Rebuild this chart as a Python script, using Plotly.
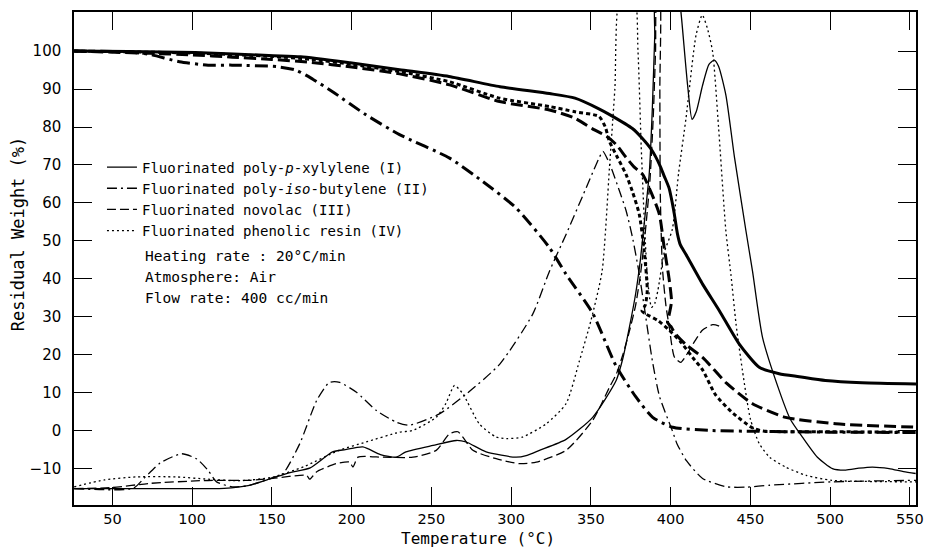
import plotly.graph_objects as go

# ---------------- data ----------------
# Thick curves: residual weight (TG)
tg_I_x = [26, 60, 102, 151, 168, 199, 230, 261, 293, 324, 340, 355, 362, 376, 382, 388, 393, 396, 399, 401, 402.3, 404.3, 406, 409.6, 420, 430.5, 443, 455.5, 468, 480.6, 497, 520, 554]
tg_I_y = [100, 99.9, 99.6, 98.8, 98.5, 96.9, 95.1, 93.3, 90.6, 88.8, 87.6, 84.8, 83.2, 79.6, 77.1, 74, 70.1, 67, 63.9, 60, 57, 51.7, 49, 46.4, 38.6, 31.6, 22.8, 16.7, 15, 14.2, 13.2, 12.6, 12.3]

tg_II_x = [26, 60, 73.5, 92, 110, 125, 153, 165, 175.6, 188, 209, 230, 261.4, 282, 303, 324, 334.4, 351, 365.8, 378.3, 388.7, 401.2, 424, 455, 500, 554]
tg_II_y = [100, 99.8, 99.1, 97.2, 96.3, 96.3, 95.9, 95, 92.6, 89.3, 83.2, 78, 71.8, 65.7, 58.7, 48.2, 41.2, 31, 17, 8.8, 3.5, 0.9, 0.05, -0.2, -0.4, -0.5]

tg_III_x = [26, 73.5, 100, 125, 150, 175, 200, 230, 261.4, 292.7, 324, 340, 351, 360, 366, 372, 377, 382.4, 388, 392.9, 396, 399, 400.5, 399, 398, 400, 403, 410, 420, 435, 451.3, 472, 503.5, 554]
tg_III_y = [100, 99.4, 99, 98.4, 97.8, 97, 95.8, 94, 91.1, 86.7, 84.5, 82.3, 79.5, 77.5, 75.3, 72, 69.5, 67.5, 62.5, 57, 48, 40, 34, 30.5, 28.5, 27.5, 25.5, 22.5, 19.3, 12.5, 7.1, 3.5, 1.8, 0.9]

tg_IV_x = [26, 73.5, 100, 150, 175, 200, 230, 261.4, 292.7, 324, 340, 355, 359, 361.6, 366, 372, 376, 380.3, 383.4, 385.3, 384, 382, 384.5, 392, 399, 406, 413.7, 420, 428, 438, 451.3, 458, 500, 554]
tg_IV_y = [100, 99.7, 99.5, 98.6, 97.8, 96.5, 94.6, 91.9, 87.6, 85.4, 84, 82.8, 80, 76.2, 72.5, 67.5, 63, 57, 47.3, 36.8, 33, 31.5, 30.7, 29, 26.5, 23.5, 19.3, 16, 9.5, 5, 0.7, -0.1, -0.3, -0.4]

# Thin curves: differential traces
dta_I_x = [26, 80, 120, 135, 151, 162, 174, 188, 196, 207, 218, 228, 234, 251, 265.6, 271.8, 284.3, 303, 310, 317.7, 334.4, 351.1, 365.8, 370, 374, 378, 381, 384, 386.6, 388.5, 390, 391, 405, 406.5, 410.6, 413.4, 416, 420, 424, 427.3, 430, 434.6, 440, 447.2, 451.3, 457.6, 468, 475, 482.6, 492, 501.4, 509.8, 518, 526.5, 536.9, 546, 553.6]
dta_I_y = [-15.3, -15.3, -15.2, -14.5, -12.4, -11, -9.8, -5.6, -5, -4.3, -6.3, -7, -5.6, -3.9, -2.6, -3, -5.6, -7, -6.5, -5.2, -2.3, 3.5, 13.2, 19, 27, 36, 45, 57, 68, 85, 104, 115, 115, 110, 91, 82, 84, 91, 96.5, 97.6, 96, 88.4, 72, 52.6, 42, 24.5, 10.6, 3, -1.7, -7, -10, -10.4, -9.9, -9.6, -10, -10.8, -11.3]

dta_II_x = [26, 63, 70, 80, 93.5, 103, 110, 115.3, 125, 135, 150, 157, 167.5, 178, 186, 192.5, 203, 215.5, 228, 236, 255, 272, 293, 313.5, 324, 334.4, 345, 355.3, 357.5, 362, 368, 372, 376, 380, 384, 388.5, 393, 401, 404, 410, 420, 435, 447, 462, 501, 554]
dta_II_y = [-15.3, -15.2, -12.5, -8.5, -6.1, -7.5, -10.5, -13.5, -14.8, -14.5, -12.5, -11.3, -3.4, 7.9, 12.7, 12.7, 10.1, 5.3, 2.2, 1.4, 4.4, 9.7, 17.6, 30.7, 42, 51.7, 62, 72, 73.6, 70, 63, 58, 51, 42, 31, 18.4, 9, 0, -3.5, -8, -12.6, -14.8, -14.9, -14.4, -13.5, -13.1]

dta_III_x = [26, 50, 73.6, 104.9, 115.3, 136.2, 150.5, 171.7, 173.7, 177.9, 190.4, 198.7, 200.8, 204, 219.6, 238.4, 253, 261.4, 266.6, 269.7, 276, 290.6, 305.2, 315.7, 334.4, 351.1, 361.6, 366, 370, 374, 378, 381, 384, 387, 389, 390.5, 391.5, 393, 393.2, 393.5, 394.8, 397, 399.1, 402.3, 406.3, 410, 415, 420, 426.3, 430, 432.5]
dta_III_y = [-15.3, -15, -13.9, -13.2, -13.1, -13.1, -12.6, -11.8, -12.8, -10.9, -8.7, -8.3, -9.6, -7, -7, -7, -5.2, -0.8, -0.3, -1.7, -5.2, -7.4, -8.7, -8.3, -5.2, 2.7, 11.4, 15, 20, 26, 33, 41, 52, 66, 82, 100, 115, 115, 90, 62, 43, 33, 27.3, 19.4, 18, 20, 23.5, 26.5, 27.9, 27.6, 27]

dta_IV_x = [26, 45, 65, 90, 110, 130, 150, 170, 192, 209, 230, 238, 253, 259, 264.5, 269.7, 280, 290.6, 297, 307, 322, 334.4, 342.8, 350, 357, 361.6, 365, 368.5, 377, 379.5, 381.5, 383.5, 385.5, 388, 390, 392, 396, 401, 405, 409.6, 415.9, 419.8, 423, 426.3, 430, 434.6, 437.8, 441, 445, 450, 455.5, 462, 472, 485, 501, 554]
dta_IV_y = [-14.8, -13, -12.2, -12.2, -12.8, -13.2, -12.3, -9.5, -5.2, -3, -0.4, 0, 3.5, 7.1, 11.9, 9.7, 1.8, -1.7, -2.1, -1.7, 1.8, 7.1, 18.4, 29, 42, 69.2, 90, 115, 115, 100, 75, 55, 40, 32.5, 33.5, 37, 47, 53, 68, 82.3, 104.2, 109.5, 106, 99.8, 80, 52.6, 41, 28, 15.8, 3, -3.4, -7, -9.6, -11.8, -13.1, -13.5]

series_names = [
    "Fluorinated poly-<i>p</i>-xylylene (I)",
    "Fluorinated poly-<i>iso</i>-butylene (II)",
    "Fluorinated novolac (III)",
    "Fluorinated phenolic resin (IV)",
]
notes = ["Heating rate : 20°C/min", "Atmosphere: Air", "Flow rate: 400 cc/min"]

x_ticks = [50, 100, 150, 200, 250, 300, 350, 400, 450, 500, 550]
y_ticks = [-10, 0, 10, 20, 30, 40, 50, 60, 70, 80, 90, 100]

# ---------------- figure ----------------
FONT = "DejaVu Sans"
TFONT = "DejaVu Sans Mono"
thin_dash = ["solid", "10px,4px,2px,4px", "9px,4px", "2px,3px"]
thick_dash = ["solid", "13px,5px,3px,5px", "12px,5px", "4px,3px"]

thin = [(dta_I_x, dta_I_y), (dta_II_x, dta_II_y), (dta_III_x, dta_III_y), (dta_IV_x, dta_IV_y)]
thick = [(tg_I_x, tg_I_y), (tg_II_x, tg_II_y), (tg_III_x, tg_III_y), (tg_IV_x, tg_IV_y)]

fig = go.Figure()
for i, (xs, ys) in enumerate(thin):
    fig.add_trace(go.Scatter(x=xs, y=ys, mode="lines", name=series_names[i],
                             line=dict(color="black", width=1.3, dash=thin_dash[i], shape="spline", smoothing=0.6),
                             showlegend=True))
for i, (xs, ys) in enumerate(thick):
    fig.add_trace(go.Scatter(x=xs, y=ys, mode="lines", name=series_names[i],
                             line=dict(color="black", width=3, dash=thick_dash[i], shape="spline", smoothing=0.6),
                             showlegend=False))

L, R, T, B = 74, 17, 10, 43
W, H = 934, 548
pw, ph = W - L - R, H - T - B

def px2paper(px, py):
    return (px - L) / pw, (H - B - py) / ph

annos = []
for k, txt in enumerate(notes):
    xp, yp = px2paper(143, 255 + 21 * k)
    annos.append(dict(text=txt, x=xp, y=yp, xref="paper", yref="paper",
                      xanchor="left", yanchor="middle", showarrow=False,
                      font=dict(family=TFONT, size=14.5, color="black")))
xp, yp = px2paper(18, 233)
annos.append(dict(text="Residual Weight (%)", x=xp, y=yp, xref="paper", yref="paper",
                  textangle=-90, showarrow=False, xanchor="center", yanchor="middle",
                  font=dict(family=TFONT, size=17, color="black")))
xp, yp = px2paper(478, 539)
annos.append(dict(text="Temperature (°C)", x=xp, y=yp, xref="paper", yref="paper",
                  showarrow=False, xanchor="center", yanchor="middle",
                  font=dict(family=TFONT, size=16, color="black")))

lx, ly = px2paper(102, 150)
fig.update_layout(
    width=W, height=H,
    margin=dict(l=L, r=R, t=T, b=B),
    paper_bgcolor="white", plot_bgcolor="white",
    font=dict(family=FONT, color="black"),
    legend=dict(x=lx, y=ly, xanchor="left", yanchor="top", bgcolor="rgba(0,0,0,0)",
                font=dict(family=TFONT, size=14, color="black"), tracegroupgap=0,
                itemwidth=30),
    annotations=annos,
    xaxis=dict(range=[25.9, 553.8], tickvals=x_ticks, ticks="inside", ticklen=18, tickwidth=1.3,
               tickcolor="black", showline=True, linecolor="black", linewidth=1.5, mirror="ticks",
               showgrid=False, zeroline=False, tickfont=dict(family=FONT, size=14.5, color="black"),
               ticklabelstandoff=0),
    yaxis=dict(range=[-19.6, 110.3], tickvals=y_ticks, ticks="inside", ticklen=18, tickwidth=1.3,
               tickcolor="black", showline=True, linecolor="black", linewidth=1.5, mirror="ticks",
               showgrid=False, zeroline=False, tickfont=dict(family=FONT, size=15, color="black"),
               ticklabelstandoff=8),
)

fig.write_html("out.html", config={"displayModeBar": False},
               post_script="document.body.style.margin='0';document.body.style.padding='0';")
